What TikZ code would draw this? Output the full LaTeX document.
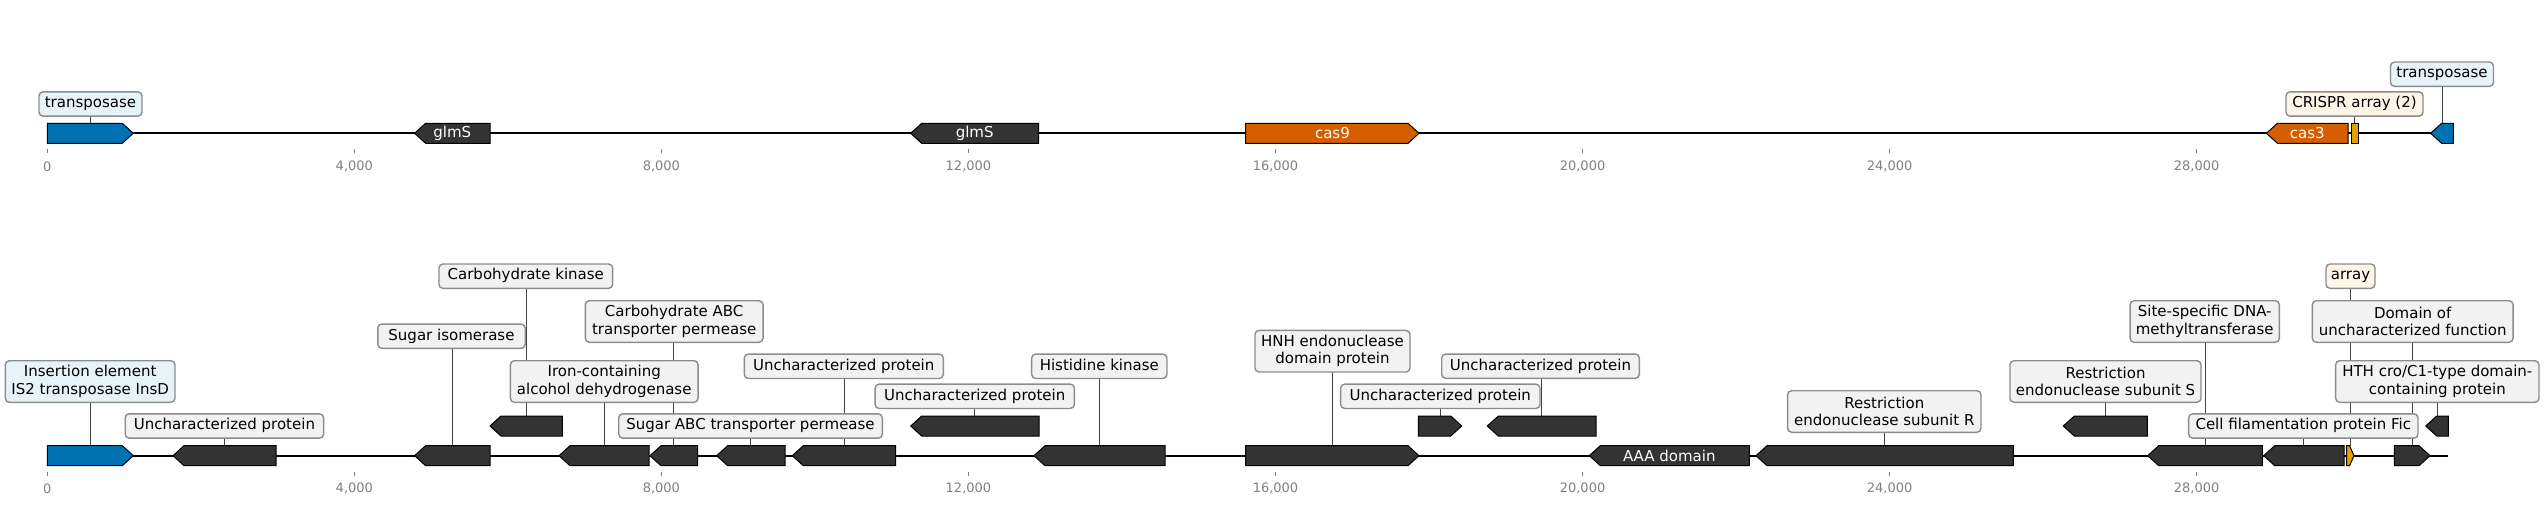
\documentclass[tikz,border=0pt]{standalone}
\usepackage{fontspec}
\setmainfont{DejaVu Sans}
\pgfdeclarelayer{bg}
\pgfsetlayers{bg,main}
\definecolor{cblue}{HTML}{0072B2}
\definecolor{cverm}{HTML}{D55E00}
\definecolor{corange}{HTML}{E69F00}
\definecolor{dark}{HTML}{333333}
\definecolor{lgrey}{HTML}{F2F2F2}
\definecolor{lblue}{HTML}{E6F4FA}
\definecolor{lcream}{HTML}{FDF5E6}
\definecolor{boxedge}{HTML}{8C8C8C}
\definecolor{connc}{HTML}{404040}
\definecolor{tickc}{HTML}{808080}
\newcommand\lblfont{\fontsize{15}{17.3}\selectfont}
\newcommand\tickfont{\fontsize{13}{15}\selectfont}
\tikzset{
  gene/.style={draw=black, line width=1pt},
  track/.style={draw=black, line width=2pt},
  lbl/.style={draw=boxedge, line width=1.4pt, rounded corners=4pt, fill=lgrey,
    font=\lblfont, inner xsep=3pt, inner ysep=0pt, text=black},
  lblone/.style={lbl, minimum height=24.3pt, text height=11.2pt, text depth=3.6pt},
  lbltwo/.style={lbl, minimum height=41.6pt, align=center},
  conn/.style={draw=connc, line width=1pt},
  tickmark/.style={draw=tickc, line width=1pt},
  ticklbl/.style={font=\tickfont, text=tickc, inner sep=0pt},
  genetxt/.style={font=\lblfont, text=white, inner sep=0pt}
}
\newcommand\fgene[5]{%
  \filldraw[gene,fill=#5] (#2,#4-10) -- (#3-11,#4-10) -- (#3,#4) -- (#3-11,#4+10) -- (#2,#4+10) -- cycle;
  \coordinate (#1) at ({(#2+#3)/2},#4-10);}
\newcommand\rgene[5]{%
  \filldraw[gene,fill=#5] (#2,#4) -- (#2+11,#4-10) -- (#3,#4-10) -- (#3,#4+10) -- (#2+11,#4+10) -- cycle;
  \coordinate (#1) at ({(#2+#3)/2},#4-10);}
\begin{document}
\begin{tikzpicture}[x=1pt,y=-1pt]
\useasboundingbox (0,0) rectangle (2544,505);
% ---------- tracks ----------
\coordinate (tS) at (47.3,133.3);
\coordinate (tE) at (2453.4,133.3);
\coordinate (bS) at (47.3,455.7);
\coordinate (bE) at (2448.3,455.7);
\begin{pgfonlayer}{bg}
\draw[track] (tS) -- (tE);
\draw[track] (bS) -- (bE);
\end{pgfonlayer}
% ---------- ticks ----------
\foreach \k/\t in {0/0,1/{4,000},2/{8,000},3/{12,000},4/{16,000},5/{20,000},6/{24,000},7/{28,000}}{
  \draw[tickmark] (47.3+307.05*\k,149.3) -- ++(0,4);
  \node[ticklbl] at (47.3+307.05*\k,166.7) {\t};
  \draw[tickmark] (47.3+307.05*\k,471.7) -- ++(0,4);
  \node[ticklbl] at (47.3+307.05*\k,488.3) {\t};
}
% ---------- top track genes ----------
\fgene{ta}{47.3}{133.3}{133.3}{cblue}
\rgene{tb}{414.6}{490}{133.3}{dark}
\node[genetxt] at (452.3,133.3) {glmS};
\rgene{tc}{910.7}{1038.6}{133.3}{dark}
\node[genetxt] at (974.7,133.3) {glmS};
\fgene{td}{1245.7}{1419}{133.3}{cverm}
\node[genetxt] at (1332.4,133.3) {cas9};
\rgene{te}{2266.4}{2348.2}{133.3}{cverm}
\node[genetxt] at (2307.3,133.3) {cas3};
\filldraw[gene,fill=corange] (2351,123.3) rectangle (2358,143.3);
\coordinate (tf) at (2354.5,123.3);
\rgene{tg}{2430.6}{2453.4}{133.3}{cblue}
% ---------- top labels ----------
\node[lblone,fill=lblue,minimum width=103pt] (lta) at (90.5,104) {transposase};
\node[lblone,fill=lcream,minimum width=137pt] (ltf) at (2354.5,104) {CRISPR array (2)};
\node[lblone,fill=lblue,minimum width=103pt] (ltg) at (2442,74.2) {transposase};
% ---------- bottom track genes ----------
\fgene{g1}{47.3}{133.3}{455.7}{cblue}
\rgene{g2}{173}{276}{455.7}{dark}
\rgene{g3}{414.6}{490}{455.7}{dark}
\rgene{g4}{490}{562.3}{426}{dark}
\rgene{g5}{559}{649}{455.7}{dark}
\rgene{g6}{650}{697.7}{455.7}{dark}
\rgene{g7}{716.7}{785}{455.7}{dark}
\rgene{g8}{792.3}{895.7}{455.7}{dark}
\rgene{g9}{910.7}{1039}{426}{dark}
\rgene{g10}{1034}{1165}{455.7}{dark}
\fgene{g11}{1245.7}{1419}{455.7}{dark}
\fgene{g12}{1418.3}{1461.7}{426}{dark}
\rgene{g13}{1487.3}{1596}{426}{dark}
\rgene{g14}{1589.3}{1749.3}{455.7}{dark}
\node[genetxt] at (1669.3,455.7) {AAA domain};
\rgene{g15}{1756}{2013.3}{455.7}{dark}
\rgene{g16}{2063.3}{2147.3}{426}{dark}
\rgene{g17}{2147.7}{2262.3}{455.7}{dark}
\rgene{g18}{2263.7}{2344}{455.7}{dark}
\filldraw[gene,fill=corange] (2346.7,445.7) -- (2349.5,445.7) -- (2354,455.7) -- (2349.5,465.7) -- (2346.7,465.7) -- cycle;
\coordinate (g19) at (2350.4,445.7);
\fgene{g20}{2394.3}{2430}{455.7}{dark}
\rgene{g21}{2425.7}{2448.3}{426}{dark}
% ---------- bottom labels ----------
\node[lbltwo,fill=lblue,minimum width=169.6pt] (l1) at (90.2,381.5) {Insertion element\\IS2 transposase InsD};
\node[lblone,minimum width=198.4pt] (l2) at (224.4,426) {Uncharacterized protein\hspace{4.5pt}};
\node[lblone,minimum width=147.4pt] (l3) at (451.5,336.2) {Sugar isomerase\hspace{4.5pt}};
\node[lblone,minimum width=173.7pt] (l4) at (525.8,276.2) {Carbohydrate kinase\hspace{4.5pt}};
\node[lbltwo,minimum width=187.7pt] (l5) at (604.2,381.5) {Iron-containing\\alcohol dehydrogenase};
\node[lbltwo,minimum width=177.7pt] (l6) at (674.2,321.5) {Carbohydrate ABC\\transporter permease};
\node[lblone,minimum width=263.6pt] (l7) at (750.5,426) {Sugar ABC transporter permease};
\node[lblone,minimum width=199pt] (l8) at (843.8,366.3) {Uncharacterized protein\hspace{4.5pt}};
\node[lblone,minimum width=199.3pt] (l9) at (974.7,396.3) {Uncharacterized protein\hspace{4.5pt}};
\node[lblone,minimum width=135.3pt] (l10) at (1099.3,366.3) {Histidine kinase\hspace{4.5pt}};
\node[lbltwo,minimum width=155pt] (l11) at (1332.5,351.2) {HNH endonuclease\\domain protein};
\node[lblone,minimum width=199.3pt] (l12) at (1440.3,396.3) {Uncharacterized protein\hspace{4.5pt}};
\node[lblone,minimum width=197.6pt] (l13) at (1540.5,366.2) {Uncharacterized protein\hspace{4.5pt}};
\node[lbltwo,minimum width=193.3pt] (l15) at (1884.3,411.5) {Restriction\\endonuclease subunit R};
\node[lbltwo,minimum width=191pt] (l16) at (2105.5,381.5) {Restriction\\endonuclease subunit S};
\node[lbltwo,minimum width=149.3pt] (l17) at (2204.7,321.5) {Site-specific DNA-\\methyltransferase};
\node[lblone,minimum width=229.3pt] (l18) at (2303.3,426) {Cell filamentation protein Fic};
\node[lblone,fill=lcream,minimum width=49pt] (l19) at (2350.5,276.2) {array};
\node[lbltwo,minimum width=200.7pt] (l20) at (2412.7,321.5) {Domain of\\uncharacterized function};
\node[lbltwo,minimum width=203.3pt] (l21) at (2437.3,381.5) {HTH cro/C1-type domain-\\containing protein};
% ---------- connectors ----------
\begin{pgfonlayer}{bg}
\foreach \g/\l in {ta/lta,tf/ltf,tg/ltg,g1/l1,g2/l2,g3/l3,g4/l4,g5/l5,g6/l6,g7/l7,g8/l8,g9/l9,g10/l10,g11/l11,g12/l12,g13/l13,g15/l15,g16/l16,g17/l17,g18/l18,g19/l19,g20/l20,g21/l21}{
  \draw[conn] (\g) -- (\g |- \l.center);
}
\end{pgfonlayer}
\end{tikzpicture}
\end{document}
